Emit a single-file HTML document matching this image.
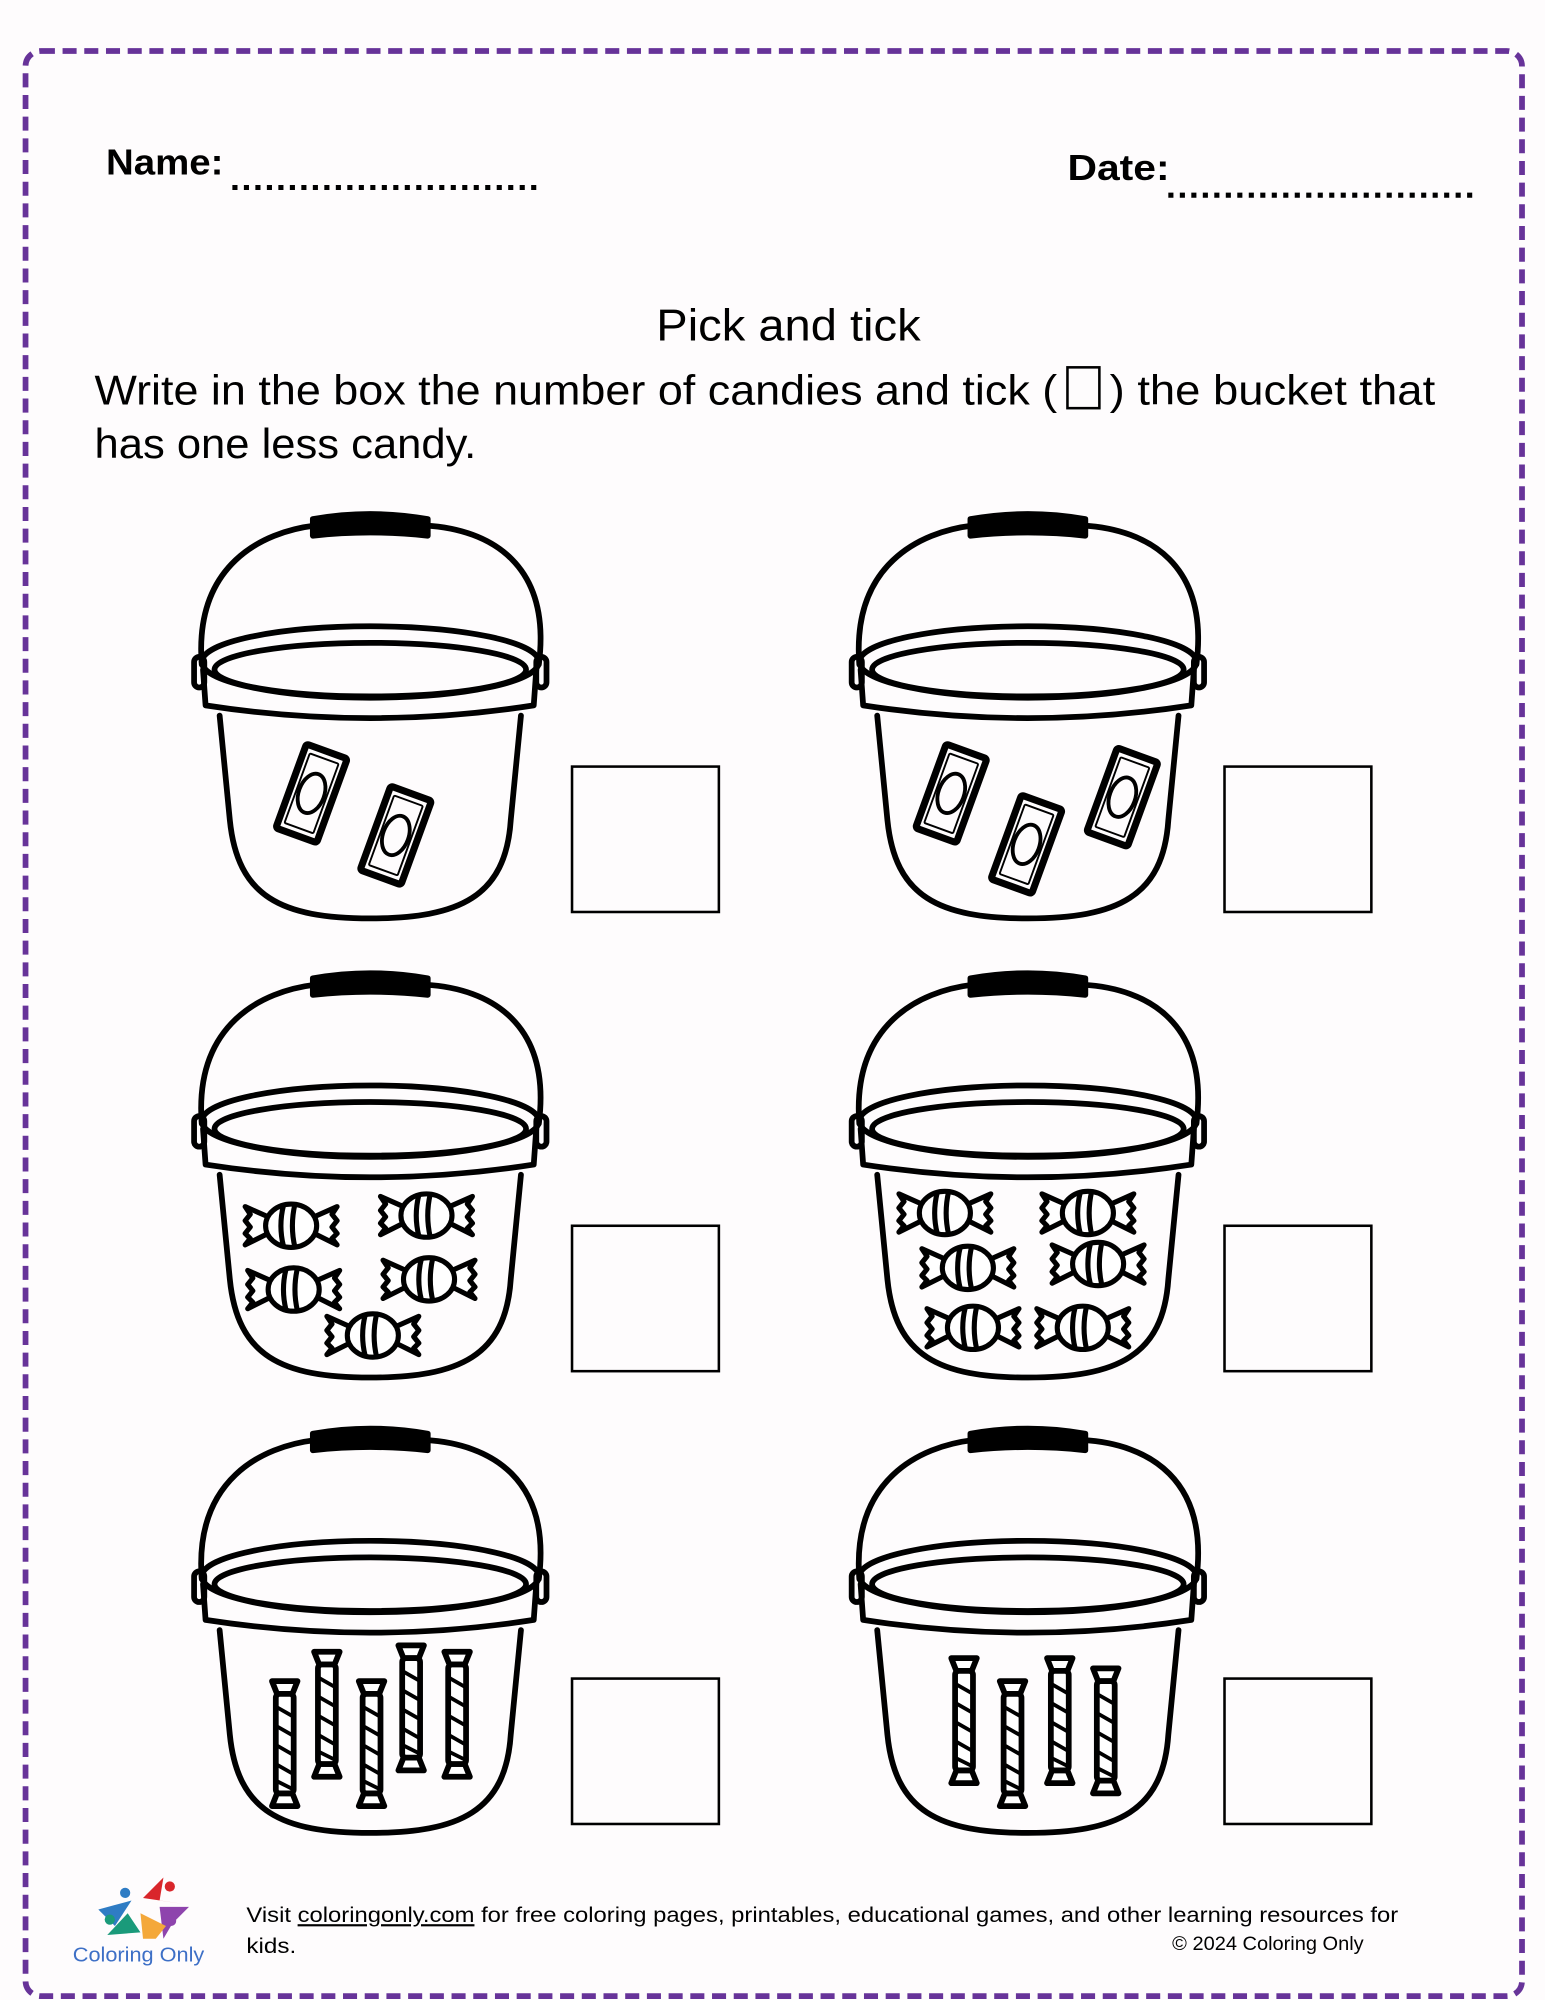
<!DOCTYPE html>
<html><head><meta charset="utf-8"><style>
html,body{margin:0;padding:0;background:#fefcfd;}
svg{display:block;}
text{font-family:"Liberation Sans",sans-serif;}
</style></head><body>
<svg width="1545" height="2000" viewBox="0 0 1210 1568" preserveAspectRatio="none" xmlns="http://www.w3.org/2000/svg">
<defs>
<g id="bucket" fill="none" stroke="#000" stroke-width="4.5" stroke-linecap="round" stroke-linejoin="round">
  <path d="M8 118 C2 40 55 14 97 9"/>
  <path d="M183 9 C235 12 282 40 272 118"/>
  <path d="M95 4 Q140 -4 185 4 L185 17 Q140 12 95 17 Z" fill="#000"/>
  <ellipse cx="140" cy="116" rx="132" ry="28"/>
  <ellipse cx="140" cy="122" rx="122" ry="21"/>
  <path d="M9 122 L11 150 Q140 170 268 150 L270 122"/>
  <path d="M22 158 L30 240 C36 300 70 317 140 317 C210 317 246 300 250 240 L258 158"/>
  <rect x="2" y="112" width="8" height="24" rx="4"/>
  <rect x="270" y="112" width="8" height="24" rx="4"/>
</g>
<g id="rc" fill="none" stroke="#000">
  <rect x="-17" y="-35" width="34" height="70" rx="2" stroke-width="5.5"/>
  <rect x="-12" y="-29" width="24" height="58" rx="1" stroke-width="1.5"/>
  <ellipse cx="0" cy="0" rx="10" ry="16" stroke-width="3"/>
</g>
<g id="wc" fill="#fff" stroke="#000" stroke-width="4" stroke-linejoin="round">
  <path d="M-18 -6 L-36 -14 L-32 -8 L-36 -3 L-32 2 L-36 7 L-32 11 L-36 16 L-18 7 Z"/>
  <path d="M18 -6 L36 -14 L32 -8 L36 -3 L32 2 L36 7 L32 11 L36 16 L18 7 Z"/>
  <ellipse cx="0" cy="1" rx="20" ry="17"/>
  <path d="M-6 -15 Q-10 1 -6 17 M3 -16 Q-1 1 3 18" fill="none"/>
</g>
<g id="sc" fill="#fff" stroke="#000" stroke-width="4.5" stroke-linejoin="round">
  <path d="M-10 -50 L10 -50 L6 -40 L-6 -40 Z"/>
  <path d="M-10 48 L10 48 L6 38 L-6 38 Z"/>
  <rect x="-7" y="-40" width="14" height="78" rx="3"/>
  <path d="M-7 -30 L7 -22 M-7 -15 L7 -7 M-7 0 L7 8 M-7 15 L7 23 M-7 28 L7 35" fill="none" stroke-width="3"/>
</g>
</defs>
<rect x="0" y="0" width="1210" height="1568" fill="#fefcfd"/>
<rect x="20" y="40" width="1172" height="1525" rx="12" fill="none" stroke="#673399" stroke-width="4.5" stroke-dasharray="11 6"/>

<text x="83" y="137" font-size="28" font-weight="bold" textLength="92" lengthAdjust="spacingAndGlyphs">Name:</text>
<line x1="182" y1="147" x2="423" y2="147" stroke="#000" stroke-width="4" stroke-dasharray="4 5"/>
<text x="836" y="141" font-size="28" font-weight="bold" textLength="80" lengthAdjust="spacingAndGlyphs">Date:</text>
<line x1="915" y1="153" x2="1157" y2="153" stroke="#000" stroke-width="4" stroke-dasharray="4 5"/>

<text x="514" y="267" font-size="35" textLength="207" lengthAdjust="spacingAndGlyphs">Pick and tick</text>
<text x="74" y="317" font-size="33" textLength="754" lengthAdjust="spacingAndGlyphs">Write in the box the number of candies and tick (</text>
<rect x="836" y="288" width="25" height="32" fill="none" stroke="#000" stroke-width="2"/>
<text x="869" y="317" font-size="33" textLength="255" lengthAdjust="spacingAndGlyphs">) the bucket that</text>
<text x="74" y="359" font-size="33" textLength="299" lengthAdjust="spacingAndGlyphs">has one less candy.</text>

<use href="#bucket" x="150" y="403"/>
<use href="#bucket" x="665" y="403"/>
<use href="#bucket" x="150" y="763"/>
<use href="#bucket" x="665" y="763"/>
<use href="#bucket" x="150" y="1120"/>
<use href="#bucket" x="665" y="1120"/>

<rect x="448" y="601" width="115" height="114" fill="none" stroke="#000" stroke-width="2"/>
<rect x="959" y="601" width="115" height="114" fill="none" stroke="#000" stroke-width="2"/>
<rect x="448" y="961" width="115" height="114" fill="none" stroke="#000" stroke-width="2"/>
<rect x="959" y="961" width="115" height="114" fill="none" stroke="#000" stroke-width="2"/>
<rect x="448" y="1316" width="115" height="114" fill="none" stroke="#000" stroke-width="2"/>
<rect x="959" y="1316" width="115" height="114" fill="none" stroke="#000" stroke-width="2"/>

<use href="#rc" transform="translate(244,622) rotate(20)"/>
<use href="#rc" transform="translate(310,655) rotate(20)"/>
<use href="#rc" transform="translate(745,622) rotate(20)"/>
<use href="#rc" transform="translate(804,662) rotate(20)"/>
<use href="#rc" transform="translate(879,625) rotate(20)"/>

<use href="#wc" transform="translate(228,960)"/>
<use href="#wc" transform="translate(334,952)"/>
<use href="#wc" transform="translate(230,1010)"/>
<use href="#wc" transform="translate(336,1002)"/>
<use href="#wc" transform="translate(292,1046)"/>
<use href="#wc" transform="translate(740,950)"/>
<use href="#wc" transform="translate(852,950)"/>
<use href="#wc" transform="translate(758,993)"/>
<use href="#wc" transform="translate(860,990)"/>
<use href="#wc" transform="translate(762,1040)"/>
<use href="#wc" transform="translate(848,1040)"/>

<use href="#sc" transform="translate(223,1368)"/>
<use href="#sc" transform="translate(256,1345)"/>
<use href="#sc" transform="translate(291,1368)"/>
<use href="#sc" transform="translate(322,1340)"/>
<use href="#sc" transform="translate(358,1345)"/>
<use href="#sc" transform="translate(755,1350)"/>
<use href="#sc" transform="translate(793,1368)"/>
<use href="#sc" transform="translate(830,1350)"/>
<use href="#sc" transform="translate(866,1358)"/>

<g>
  <path d="M77 1497 L103 1490 L90 1510 Z" fill="#2f7cc4"/>
  <circle cx="98" cy="1484" r="4" fill="#2f7cc4"/>
  <path d="M112 1488 L128 1472 L125 1490 L146 1493 Z" fill="#d9262b"/>
  <circle cx="133" cy="1479" r="4" fill="#d9262b"/>
  <path d="M125 1495 L148 1495 L135 1508 L128 1520 Z" fill="#8e44ad"/>
  <circle cx="134" cy="1506" r="4" fill="#8e44ad"/>
  <path d="M110 1500 L130 1510 L122 1520 L112 1520 Z" fill="#f4a83a"/>
  <path d="M84 1517 L100 1500 L110 1515 Z" fill="#1a9a7a"/>
  <circle cx="86" cy="1505" r="4" fill="#1a9a7a"/>
  <text x="57" y="1538" font-size="16" fill="#3d6fc6" textLength="103" lengthAdjust="spacingAndGlyphs">Coloring Only</text>
</g>
<text x="193" y="1507" font-size="17" textLength="902" lengthAdjust="spacingAndGlyphs">Visit <tspan text-decoration="underline">coloringonly.com</tspan> for free coloring pages, printables, educational games, and other learning resources for</text>
<text x="193" y="1531" font-size="17" textLength="39" lengthAdjust="spacingAndGlyphs">kids.</text>
<text x="918" y="1529" font-size="15" textLength="150" lengthAdjust="spacingAndGlyphs">© 2024 Coloring Only</text>
</svg>
</body></html>
